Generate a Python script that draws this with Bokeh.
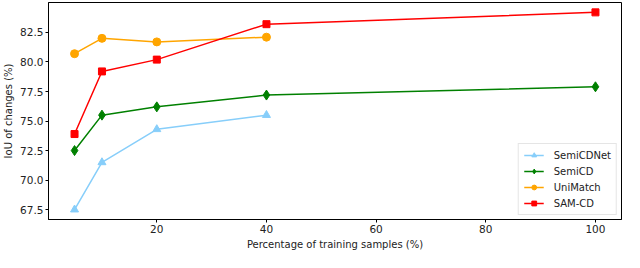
from bokeh.plotting import figure
from bokeh.models import Range1d, FixedTicker, NumeralTickFormatter, Legend
from bokeh.embed import file_html
from bokeh.resources import INLINE

x_semicdnet = [5, 10, 20, 40]
y_semicdnet = [67.5, 71.5, 74.3, 75.5]
x_semicd = [5, 10, 20, 40, 100]
y_semicd = [72.5, 75.5, 76.2, 77.2, 77.9]
x_unimatch = [5, 10, 20, 40]
y_unimatch = [80.7, 82.0, 81.7, 82.1]
x_samcd = [5, 10, 20, 40, 100]
y_samcd = [73.9, 79.2, 80.2, 83.2, 84.2]
x_ticks = [20, 40, 60, 80, 100]
y_ticks = [67.5, 70.0, 72.5, 75.0, 77.5, 80.0, 82.5]

FONT = "DejaVu Sans"
TXT = "#222222"

p = figure(width=624, height=252, output_backend="svg", toolbar_location=None,
           x_range=Range1d(0.25, 104.75), y_range=Range1d(66.665, 85.035),
           min_border_top=2, min_border_right=3, min_border_left=3, min_border_bottom=3)
p.xgrid.visible = False
p.ygrid.visible = False
p.outline_line_color = "black"
p.outline_line_width = 1

for ax in (p.xaxis[0], p.yaxis[0]):
    ax.major_label_text_font = FONT
    ax.major_label_text_font_size = "10.5px"
    ax.major_label_text_color = TXT
    ax.axis_label_text_font = FONT
    ax.axis_label_text_font_size = "10px"
    ax.axis_label_text_font_style = "normal"
    ax.axis_label_text_color = TXT
    ax.minor_tick_line_color = None
    ax.major_tick_out = 3
    ax.major_tick_in = 0
    ax.major_label_standoff = 2
    ax.axis_label_standoff = 3
    ax.axis_line_color = "black"

p.xaxis.ticker = FixedTicker(ticks=x_ticks)
p.yaxis.ticker = FixedTicker(ticks=y_ticks)
p.yaxis.formatter = NumeralTickFormatter(format="0.0")
p.xaxis.axis_label = "Percentage of training samples (%)"
p.yaxis.axis_label = "IoU of changes (%)"

series = [
    ("SemiCDNet", x_semicdnet, y_semicdnet, "#87CEFA", "triangle", 8),
    ("SemiCD", x_semicd, y_semicd, "#008000", "diamond", 10),
    ("UniMatch", x_unimatch, y_unimatch, "#FFA500", "circle", 8),
    ("SAM-CD", x_samcd, y_samcd, "#FF0000", "square", 7),
]
items = []
for name, xs, ys, col, mk, sz in series:
    l = p.line(xs, ys, line_color=col, line_width=1.5)
    s = p.scatter(xs, ys, marker=mk, size=sz, fill_color=col, line_color=col)
    items.append((name, [l, s]))

legend = Legend(items=items, location="bottom_right")
legend.label_text_font = FONT
legend.label_text_font_size = "10px"
legend.label_text_color = TXT
legend.border_line_color = "#cccccc"
legend.background_fill_alpha = 0.8
legend.glyph_width = 20
legend.glyph_height = 12
legend.spacing = 4
legend.padding = 5
legend.margin = 4
legend.label_standoff = 10
p.add_layout(legend)

open("out.html", "w").write(file_html(p, INLINE))
